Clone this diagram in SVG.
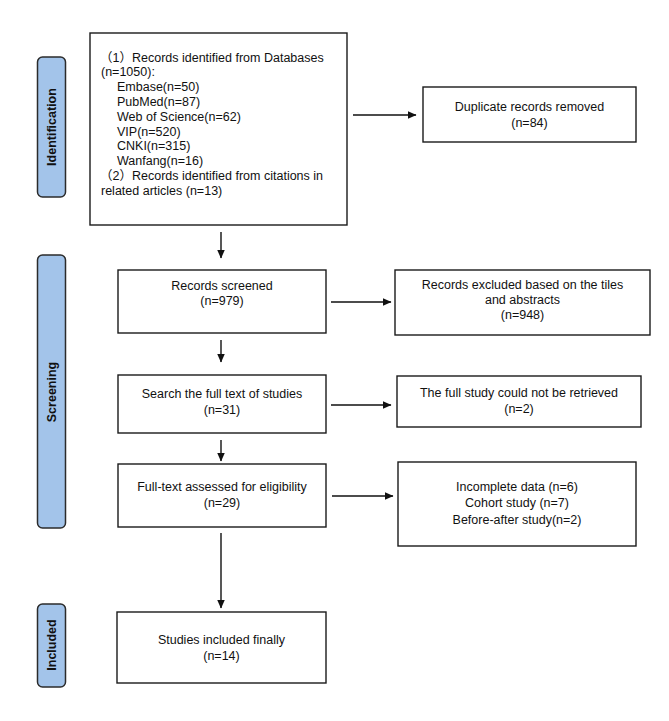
<svg xmlns="http://www.w3.org/2000/svg" width="669" height="721" viewBox="0 0 669 721">
<defs>
<style>
.box{fill:#fff;stroke:#1a1a1a;stroke-width:1.4}
.pill{fill:#a3c4ea;stroke:#2b2b2b;stroke-width:1.5}
.t{font-family:"Liberation Sans",Arial,"Noto Sans CJK SC",sans-serif;font-size:12.5px;fill:#111}
.c{text-anchor:middle}
.lab{font-family:"Liberation Sans",Arial,sans-serif;font-size:12.5px;font-weight:bold;fill:#111;text-anchor:middle}
.ln{stroke:#111;stroke-width:1.4;fill:none}
</style>
<marker id="ah" markerWidth="9" markerHeight="8" refX="8.5" refY="4" orient="auto" markerUnits="userSpaceOnUse">
<path d="M0,0 L9,4 L0,8 Z" fill="#111"/>
</marker>
</defs>
<rect width="669" height="721" fill="#fff"/>

<g id="stage-identification">
<rect class="pill" x="37.5" y="57" width="28" height="140" rx="5"/>
<text class="lab" transform="translate(56,127) rotate(-90)">Identification</text>
</g>
<g id="stage-screening">
<rect class="pill" x="37.5" y="255" width="28" height="273" rx="5"/>
<text class="lab" transform="translate(56,392) rotate(-90)">Screening</text>
</g>
<g id="stage-included">
<rect class="pill" x="37.5" y="604" width="28" height="83" rx="5"/>
<text class="lab" transform="translate(56,645) rotate(-90)">Included</text>
</g>

<g id="records-identified">
<rect class="box" x="90" y="33" width="257" height="192"/>
<text class="t" x="100" y="61.5">（1）Records identified from Databases</text>
<text class="t" x="101" y="76.3">(n=1050):</text>
<text class="t" x="117" y="91.1">Embase(n=50)</text>
<text class="t" x="117" y="105.9">PubMed(n=87)</text>
<text class="t" x="117" y="120.7">Web of Science(n=62)</text>
<text class="t" x="117" y="135.5">VIP(n=520)</text>
<text class="t" x="117" y="150.3">CNKI(n=315)</text>
<text class="t" x="117" y="165.1">Wanfang(n=16)</text>
<text class="t" x="100" y="179.9">（2）Records identified from citations in</text>
<text class="t" x="101" y="194.7">related articles (n=13)</text>
</g>

<g id="duplicates">
<rect class="box" x="423" y="87" width="213" height="55"/>
<text class="t c" x="529.5" y="111">Duplicate records removed</text>
<text class="t c" x="529.5" y="127">(n=84)</text>
</g>

<g id="screened">
<rect class="box" x="118" y="270" width="208" height="63"/>
<text class="t c" x="222" y="290">Records screened</text>
<text class="t c" x="222" y="305">(n=979)</text>
</g>

<g id="excluded-titles">
<rect class="box" x="395" y="270" width="255" height="65"/>
<text class="t c" x="522.5" y="289">Records excluded based on the tiles</text>
<text class="t c" x="522.5" y="304">and abstracts</text>
<text class="t c" x="522.5" y="319">(n=948)</text>
</g>

<g id="full-text-search">
<rect class="box" x="118" y="375" width="208" height="58"/>
<text class="t c" x="222" y="398">Search the full text of studies</text>
<text class="t c" x="222" y="414">(n=31)</text>
</g>

<g id="not-retrieved">
<rect class="box" x="397" y="376" width="244" height="51"/>
<text class="t c" x="519" y="397">The full study could not be retrieved</text>
<text class="t c" x="519" y="413">(n=2)</text>
</g>

<g id="eligibility">
<rect class="box" x="118" y="464" width="208" height="63"/>
<text class="t c" x="222" y="491">Full-text assessed for eligibility</text>
<text class="t c" x="222" y="507">(n=29)</text>
</g>

<g id="excluded-reasons">
<rect class="box" x="398" y="462" width="238" height="84"/>
<text class="t c" x="517" y="491">Incomplete data (n=6)</text>
<text class="t c" x="517" y="507">Cohort study (n=7)</text>
<text class="t c" x="517" y="524">Before-after study(n=2)</text>
</g>

<g id="included-studies">
<rect class="box" x="117" y="612" width="209" height="71"/>
<text class="t c" x="221.5" y="644">Studies included finally</text>
<text class="t c" x="221.5" y="660">(n=14)</text>
</g>

<g id="connectors">
<line class="ln" x1="353" y1="115" x2="416" y2="115" marker-end="url(#ah)"/>
<line class="ln" x1="221" y1="232" x2="221" y2="258" marker-end="url(#ah)"/>
<line class="ln" x1="331" y1="302" x2="391" y2="302" marker-end="url(#ah)"/>
<line class="ln" x1="221" y1="340" x2="221" y2="362" marker-end="url(#ah)"/>
<line class="ln" x1="331" y1="405" x2="391" y2="405" marker-end="url(#ah)"/>
<line class="ln" x1="221" y1="440" x2="221" y2="461" marker-end="url(#ah)"/>
<line class="ln" x1="332" y1="496" x2="393" y2="496" marker-end="url(#ah)"/>
<line class="ln" x1="221" y1="533" x2="221" y2="608" marker-end="url(#ah)"/>
</g>
</svg>
